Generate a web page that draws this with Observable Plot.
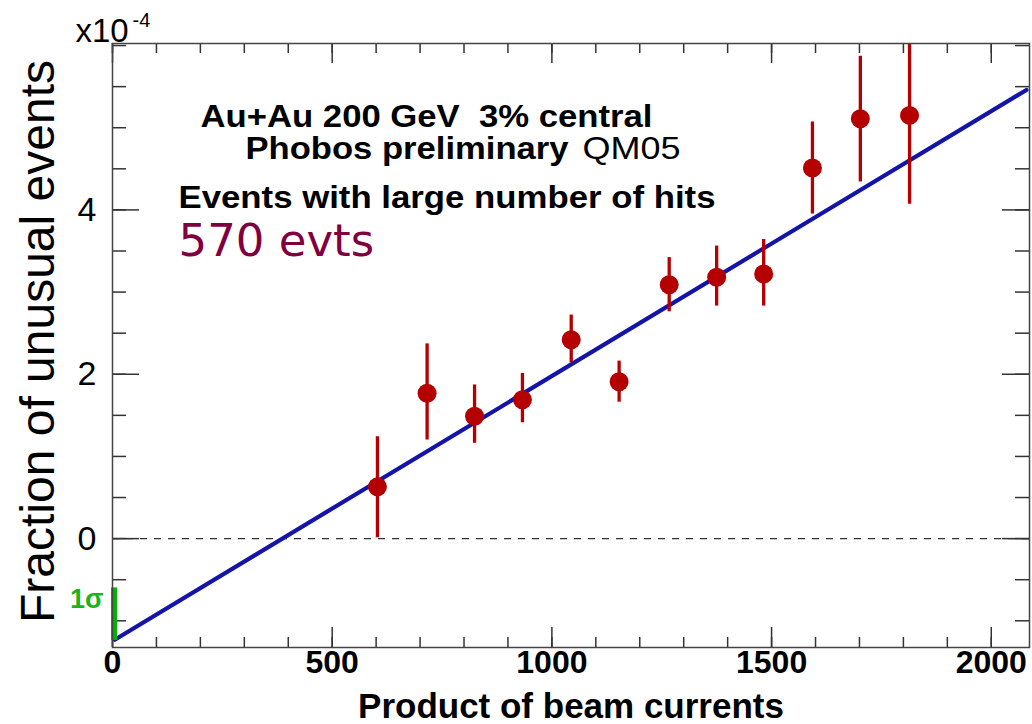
<!DOCTYPE html>
<html>
<head>
<meta charset="utf-8">
<script src="https://cdn.jsdelivr.net/npm/d3@7"></script>
<script src="https://cdn.jsdelivr.net/npm/@observablehq/plot@0.6"></script>
<style>
  html, body { margin: 0; padding: 0; background: #fff; }
  #chart text { white-space: pre; }
</style>
</head>
<body>
<div id="chart"></div>
<script>
// ---- data ----
const beamProduct = [603, 716, 824, 933, 1044, 1153, 1267, 1375, 1482, 1593, 1702, 1814];
const fraction    = [0.63, 1.77, 1.49, 1.69, 2.42, 1.91, 3.09, 3.18, 3.22, 4.51, 5.11, 5.15];
const errLow      = [0.01, 1.20, 1.16, 1.41, 2.14, 1.66, 2.76, 2.83, 2.83, 3.95, 4.34, 4.07];
const errHigh     = [1.24, 2.37, 1.87, 2.01, 2.72, 2.16, 3.42, 3.56, 3.64, 5.07, 5.87, 6.22];

// straight-line fit (endpoints)
const fitX = [5, 2080];
const fitY = [-1.23, 5.46];

// 1 sigma band of fit intercept
const sigmaLow = -1.24;
const sigmaHigh = -0.60;

// ticks
const xTicks = [0, 500, 1000, 1500, 2000];
const xMinorTicks = d3.range(0, 2001, 100);
const yTicks = [0, 2, 4];
const yMinorTicks = d3.range(-1, 6.01, 0.5);

// annotation texts
const note1 = "Au+Au 200 GeV\u00a0 3% central";
const note2 = "Phobos preliminary";
const note2b = "QM05";
const note3 = "Events with large number of hits";
const note4 = "570 evts";

const points = beamProduct.map((x, i) => ({x, y: fraction[i], lo: errLow[i], hi: errHigh[i]}));
const fit = fitX.map((x, i) => ({x, y: fitY[i]}));

const W = 1032, H = 724;
const mL = 112, mR = 3, mT = 43, mB = 77;
const fw = W - mL - mR, fh = H - mT - mB;

const red = "#b40000";
const tickColor = "#333";

const chart = Plot.plot({
  width: W,
  height: H,
  marginLeft: mL,
  marginRight: mR,
  marginTop: mT,
  marginBottom: mB,
  style: {fontFamily: "'Liberation Sans', Arial, sans-serif", background: "#fff", color: "#000"},
  x: {domain: [0, 2087], axis: null},
  y: {domain: [-1.325, 6.025], axis: null},
  marks: [
    // zero dashed line
    Plot.ruleY([0], {stroke: "#333", strokeWidth: 1.4, strokeDasharray: "7,7"}),
    // inward ticks: bottom & top x
    Plot.tickX(xTicks, {x: d => d, stroke: tickColor, strokeWidth: 1.5, insetTop: fh - 20}),
    Plot.tickX(xMinorTicks, {x: d => d, stroke: tickColor, strokeWidth: 1.5, insetTop: fh - 10}),
    Plot.tickX(xTicks, {x: d => d, stroke: tickColor, strokeWidth: 1.5, insetBottom: fh - 20}),
    Plot.tickX(xMinorTicks, {x: d => d, stroke: tickColor, strokeWidth: 1.5, insetBottom: fh - 10}),
    // inward ticks: left & right y
    Plot.tickY(yTicks, {y: d => d, stroke: tickColor, strokeWidth: 1.5, insetRight: fw - 27}),
    Plot.tickY(yMinorTicks, {y: d => d, stroke: tickColor, strokeWidth: 1.5, insetRight: fw - 14}),
    Plot.tickY(yTicks, {y: d => d, stroke: tickColor, strokeWidth: 1.5, insetLeft: fw - 27}),
    Plot.tickY(yMinorTicks, {y: d => d, stroke: tickColor, strokeWidth: 1.5, insetLeft: fw - 14}),
    // fit line
    Plot.line(fit, {x: "x", y: "y", stroke: "#1414a8", strokeWidth: 4.2, strokeLinecap: "round"}),
    // 1 sigma bar
    Plot.ruleX([0], {y1: sigmaLow, y2: sigmaHigh, stroke: "#00b400", strokeWidth: 6, dx: 1.5}),
    Plot.text(["1σ"], {frameAnchor: "bottom-left", dx: -9, dy: -40, textAnchor: "end", lineAnchor: "bottom",
      fill: "#1ab41a", fontSize: 27, fontWeight: "bold"}),
    // error bars and points
    Plot.ruleX(points, {x: "x", y1: "lo", y2: "hi", stroke: red, strokeWidth: 3.3, clip: true}),
    Plot.dot(points, {x: "x", y: "y", r: 9.5, fill: red, stroke: null}),
    // frame
    Plot.frame({stroke: "#444", strokeWidth: 1.5}),
    // x tick labels
    Plot.text(xTicks, {x: d => d, text: d => String(d), frameAnchor: "bottom", lineAnchor: "top", dy: 3,
      ariaLabel: "x-tick-labels", fontWeight: "bold", fontSize: 32, fill: "#000"}),
    // y tick labels
    Plot.text(yTicks, {y: d => d, text: d => String(d), frameAnchor: "left", textAnchor: "end", lineAnchor: "middle", dx: -16,
      fontSize: 34, fill: "#000"}),
    // exponent
    Plot.text(["x10"], {frameAnchor: "top-left", textAnchor: "start", lineAnchor: "bottom", dx: -37, dy: -2,
      fontSize: 33, fill: "#000"}),
    Plot.text(["-4"], {frameAnchor: "top-left", textAnchor: "start", lineAnchor: "bottom", dx: 20, dy: -17,
      fontSize: 20, fill: "#000"}),
    // axis titles
    Plot.text(["Product of beam currents"], {frameAnchor: "bottom", lineAnchor: "bottom", dy: 70,
      fontWeight: "bold", fontSize: 35, fill: "#000"}),
    Plot.text(["Fraction of unusual events"], {frameAnchor: "left", rotate: -90, textAnchor: "middle", lineAnchor: "bottom", dx: -59, dy: -4,
      fontSize: 48, fill: "#000"}),
    // annotations
    Plot.text([note1], {frameAnchor: "top-left", textAnchor: "start", lineAnchor: "bottom",
      dx: 88, dy: 83, fontWeight: "bold", fontSize: 31, fill: "#000"}),
    Plot.text([note2], {frameAnchor: "top-left", textAnchor: "start", lineAnchor: "bottom",
      dx: 133, dy: 115, fontWeight: "bold", fontSize: 31, fill: "#000"}),
    Plot.text([note2b], {frameAnchor: "top-left", textAnchor: "start", lineAnchor: "bottom",
      dx: 470, dy: 115, fontSize: 32, fill: "#000"}),
    Plot.text([note3], {frameAnchor: "top-left", textAnchor: "start", lineAnchor: "bottom",
      dx: 66, dy: 164, fontWeight: "bold", fontSize: 31, fill: "#000"}),
    Plot.text([note4], {frameAnchor: "top-left", textAnchor: "start", lineAnchor: "bottom",
      dx: 66, dy: 212, fontFamily: "'DejaVu Sans', sans-serif", fontSize: 45, fill: "#80003f"})
  ]
});

document.getElementById("chart").appendChild(chart);

// condense the bold tick labels horizontally (narrow face in the original)
d3.select(chart).selectAll('g[aria-label="x-tick-labels"] text').each(function() {
  const len = this.getComputedTextLength();
  this.setAttribute("textLength", (len * 0.8).toFixed(1));
  this.setAttribute("lengthAdjust", "spacingAndGlyphs");
});
// widen the annotation lines to the original's stretched lettering
const stretch = new Map([[note1, 452], [note2, 323], [note2b, 98], [note3, 537]]);
d3.select(chart).selectAll("text").each(function() {
  const len = stretch.get(this.textContent);
  if (len) {
    this.setAttribute("textLength", len);
    this.setAttribute("lengthAdjust", "spacingAndGlyphs");
  }
});
</script>
</body>
</html>
